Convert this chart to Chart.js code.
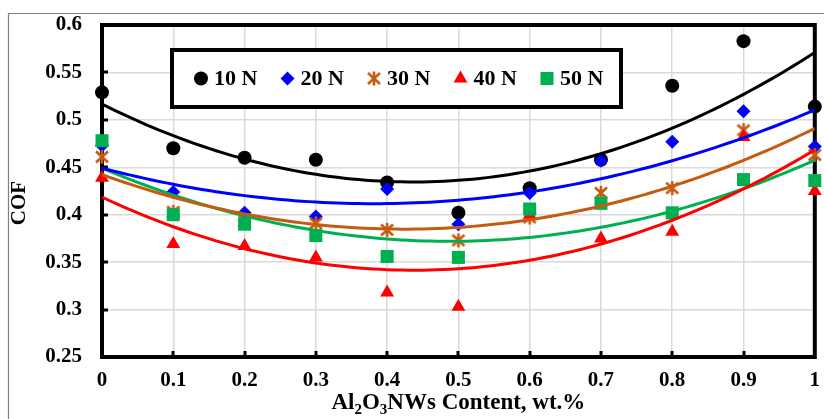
<!DOCTYPE html>
<html>
<head>
<meta charset="utf-8">
<script src="https://cdn.jsdelivr.net/npm/chart.js@4.4.0/dist/chart.umd.min.js"></script>
<style>
  html, body { margin: 0; padding: 0; background: #fff; }
  #wrap { position: relative; width: 824px; height: 419px; }
</style>
</head>
<body>
<div id="wrap"><canvas id="cof" width="824" height="419"></canvas></div>
<script>
/* data */
const contents = [0, 0.1, 0.2, 0.3, 0.4, 0.5, 0.6, 0.7, 0.8, 0.9, 1];
const cof10N = [0.529, 0.470, 0.460, 0.458, 0.434, 0.402, 0.428, 0.458, 0.536, 0.583, 0.514];
const cof20N = [0.473, 0.424, 0.402, 0.398, 0.427, 0.390, 0.423, 0.457, 0.477, 0.509, 0.472];
const cof30N = [0.461, 0.403, 0.393, 0.391, 0.384, 0.373, 0.397, 0.423, 0.428, 0.489, 0.463];
const cof40N = [0.439, 0.369, 0.367, 0.355, 0.318, 0.303, 0.400, 0.375, 0.382, 0.482, 0.425];
const cof50N = [0.478, 0.400, 0.390, 0.378, 0.356, 0.355, 0.406, 0.412, 0.402, 0.437, 0.436];
const loadNames = ["10 N", "20 N", "30 N", "40 N", "50 N"];
const xTicks = [0, 0.1, 0.2, 0.3, 0.4, 0.5, 0.6, 0.7, 0.8, 0.9, 1];
const yTicks = [0.25, 0.3, 0.35, 0.4, 0.45, 0.5, 0.55, 0.6];

const FONT = "'Liberation Serif', 'Times New Roman', serif";
const colors = ["#000000", "#0000FF", "#C55A11", "#FF0000", "#00B050"];

/* asterisk marker (excel style) */
function makeAsterisk(color) {
    const cv = document.createElement("canvas");
    cv.width = 16; cv.height = 16;
    const c = cv.getContext("2d");
    c.strokeStyle = color;
    c.lineWidth = 2.6;
    c.beginPath();
    c.moveTo(8, 1); c.lineTo(8, 15);
    c.moveTo(2, 2.5); c.lineTo(14, 13.5);
    c.moveTo(14, 2.5); c.lineTo(2, 13.5);
    c.stroke();
    return cv;
}

const styles = [
    { pointStyle: "circle",   radius: 7 },
    { pointStyle: "rectRot",  radius: 7 },
    { pointStyle: makeAsterisk(colors[2]), radius: 8 },
    { pointStyle: "triangle", radius: 8 },
    { pointStyle: "rect",     radius: 9.2 }
];

/* 2nd order polynomial fit, like the excel trend line */
function quadFit(xs, ys) {
    let n = xs.length, sx = 0, sx2 = 0, sx3 = 0, sx4 = 0, sy = 0, sxy = 0, sx2y = 0;
    for (let i = 0; i < n; i++) {
        const x = xs[i], y = ys[i];
        sx += x; sx2 += x * x; sx3 += x * x * x; sx4 += x * x * x * x;
        sy += y; sxy += x * y; sx2y += x * x * y;
    }
    const det = (m) => m[0][0] * (m[1][1] * m[2][2] - m[1][2] * m[2][1])
                     - m[0][1] * (m[1][0] * m[2][2] - m[1][2] * m[2][0])
                     + m[0][2] * (m[1][0] * m[2][1] - m[1][1] * m[2][0]);
    const A = [[n, sx, sx2], [sx, sx2, sx3], [sx2, sx3, sx4]];
    const B = [sy, sxy, sx2y];
    const d = det(A);
    const coef = [];
    for (let k = 0; k < 3; k++) {
        const M = A.map((row, r) => row.map((v, c) => (c === k ? B[r] : v)));
        coef.push(det(M) / d);
    }
    return coef;
}

function trendPoints(ys) {
    const [a, b, c] = quadFit(contents, ys);
    const pts = [];
    for (let k = 0; k <= 100; k++) {
        const x = k / 100;
        pts.push({ x: x, y: a + b * x + c * x * x });
    }
    return pts;
}

const seriesData = [cof10N, cof20N, cof30N, cof40N, cof50N];
const datasets = [];
seriesData.forEach((ys, i) => {
    datasets.push({
        type: "line",
        label: loadNames[i] + " trend",
        data: trendPoints(ys),
        borderColor: colors[i],
        borderWidth: 3,
        pointRadius: 0,
        fill: false,
        order: i,
        isTrend: true
    });
});
seriesData.forEach((ys, i) => {
    datasets.push({
        type: "scatter",
        label: loadNames[i],
        data: contents.map((x, k) => ({ x: x, y: ys[k] })),
        backgroundColor: colors[i],
        borderColor: colors[i],
        borderWidth: 0,
        pointStyle: styles[i].pointStyle,
        pointRadius: styles[i].radius,
        pointHoverRadius: styles[i].radius,
        clip: false,
        order: 10 - i
    });
});

/* outer frame, plot border and inner tick marks */
const framePlugin = {
    id: "framePlugin",
    beforeDraw(chart) {
        const ctx = chart.ctx;
        ctx.save();
        ctx.strokeStyle = "#808080";
        ctx.lineWidth = 1.2;
        ctx.beginPath();
        ctx.moveTo(8.5, 419);
        ctx.lineTo(8.5, 13.5);
        ctx.lineTo(824, 13.5);
        ctx.stroke();
        ctx.restore();
    },
    beforeDatasetsDraw(chart) {
        const ctx = chart.ctx;
        const a = chart.chartArea;
        const xs = chart.scales.x, ys = chart.scales.y;
        ctx.save();
        ctx.strokeStyle = "#000";
        ctx.lineWidth = 4;
        ctx.strokeRect(a.left, a.top, a.right - a.left, a.bottom - a.top);
        ctx.lineWidth = 3;
        ctx.beginPath();
        yTicks.slice(1, -1).forEach(v => {
            const py = Math.round(ys.getPixelForValue(v));
            ctx.moveTo(a.left, py);
            ctx.lineTo(a.left + 6, py);
        });
        xTicks.slice(1, -1).forEach(v => {
            const px = Math.round(xs.getPixelForValue(v));
            ctx.moveTo(px, a.bottom);
            ctx.lineTo(px, a.bottom - 6);
        });
        ctx.stroke();
        ctx.restore();
    },
    afterDraw(chart) {
        const ctx = chart.ctx;
        const a = chart.chartArea;
        ctx.save();
        ctx.fillStyle = "#000";

        /* y axis title */
        ctx.font = "bold 21px " + FONT;
        ctx.textAlign = "center";
        ctx.textBaseline = "middle";
        ctx.translate(20, 203);
        ctx.rotate(-Math.PI / 2);
        ctx.fillText("COF", 0, 0);
        ctx.setTransform(1, 0, 0, 1, 0, 0);

        /* x axis title with subscripts */
        const parts = [["Al", false], ["2", true], ["O", false], ["3", true], ["NWs Content, wt.%", false]];
        const big = "bold 23px " + FONT, small = "bold 15px " + FONT;
        let total = 0;
        parts.forEach(p => { ctx.font = p[1] ? small : big; total += ctx.measureText(p[0]).width; });
        let tx = (a.left + a.right) / 2 - total / 2;
        const base = 409;
        ctx.textAlign = "left";
        ctx.textBaseline = "alphabetic";
        parts.forEach(p => {
            ctx.font = p[1] ? small : big;
            ctx.fillText(p[0], tx, p[1] ? base + 5 : base);
            tx += ctx.measureText(p[0]).width;
        });

        /* legend box */
        const bx = 172, by = 50, bw = 449, bh = 57;
        ctx.fillStyle = "#fff";
        ctx.fillRect(bx, by, bw, bh);
        ctx.strokeStyle = "#000";
        ctx.lineWidth = 4;
        ctx.strokeRect(bx, by, bw, bh);
        const cy = by + bh / 2;
        ctx.font = "bold 22px " + FONT;
        ctx.textBaseline = "middle";
        chart.data.datasets.filter(d => !d.isTrend).forEach((d, i) => {
            const mx = 201 + i * 86.5;
            ctx.fillStyle = d.backgroundColor;
            ctx.strokeStyle = d.borderColor;
            Chart.helpers.drawPoint(ctx, {
                pointStyle: d.pointStyle,
                radius: d.pointRadius,
                rotation: 0,
                borderWidth: 0
            }, mx, cy);
            ctx.fillStyle = "#000";
            ctx.fillText(d.label, mx + 13, cy + 1);
        });
        ctx.restore();
    }
};

new Chart(document.getElementById("cof"), {
    data: { datasets: datasets },
    options: {
        responsive: false,
        devicePixelRatio: 1,
        animation: false,
        layout: { padding: { top: 25, right: 7, left: 0, bottom: 0 } },
        plugins: {
            legend: { display: false },
            tooltip: { enabled: false }
        },
        scales: {
            x: {
                type: "linear",
                min: 0,
                max: 1,
                afterBuildTicks: (s) => { s.ticks = xTicks.map(v => ({ value: v })); },
                afterFit: (s) => { s.height = 62; s.paddingLeft = 0; s.paddingRight = 0; },
                grid: { color: "#D9D9D9", lineWidth: 1.5, drawTicks: false },
                border: { display: false },
                ticks: {
                    color: "#000",
                    padding: 11,
                    maxRotation: 0,
                    font: { family: FONT, size: 21, weight: "bold" },
                    callback: (v) => String(v)
                }
            },
            y: {
                type: "linear",
                min: 0.25,
                max: 0.6,
                afterBuildTicks: (s) => { s.ticks = yTicks.map(v => ({ value: v })); },
                afterFit: (s) => { s.width = 102; s.paddingTop = 0; s.paddingBottom = 0; },
                grid: { color: "#D9D9D9", lineWidth: 1.5, drawTicks: false },
                border: { display: false },
                ticks: {
                    color: "#000",
                    padding: 20,
                    font: { family: FONT, size: 21, weight: "bold" },
                    callback: (v) => String(v)
                }
            }
        }
    },
    plugins: [framePlugin]
});
</script>
</body>
</html>
